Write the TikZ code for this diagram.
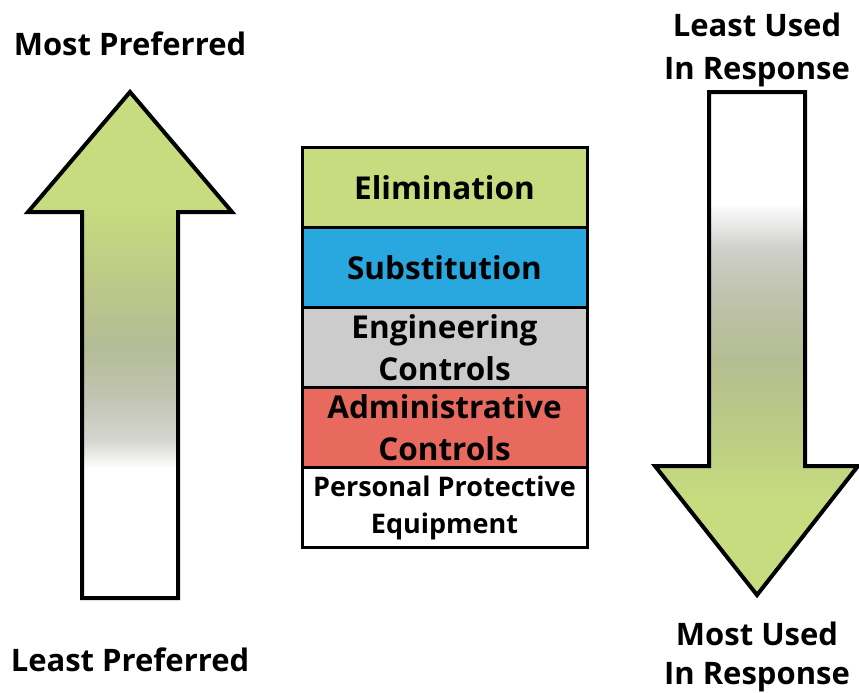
\documentclass[tikz,border=0pt]{standalone}
\usepackage{fontspec}
\setmainfont{Open Sans}
\definecolor{lgreen}{HTML}{C6DC7E}
\definecolor{subblue}{HTML}{29A8E0}
\definecolor{enggray}{HTML}{CCCCCC}
\definecolor{adminred}{HTML}{E8695E}
\definecolor{ga}{HTML}{D6D6D2}
\definecolor{gb}{HTML}{C2C4B2}
\definecolor{gc}{HTML}{B3BC95}
\definecolor{gd}{HTML}{BECB86}
\definecolor{ra}{HTML}{BCCB85}
\definecolor{rb}{HTML}{B4BD92}
\definecolor{rc}{HTML}{BFC3AE}
\definecolor{rd}{HTML}{D0D0CC}
\pgfdeclareverticalshading{upgrad}{100bp}{color(0bp)=(white); color(25bp)=(white); color(37.8bp)=(white); color(40.5bp)=(ga); color(45bp)=(gb); color(50bp)=(gc); color(57bp)=(gd); color(64bp)=(lgreen); color(75bp)=(lgreen); color(100bp)=(lgreen)}
\pgfdeclareverticalshading{downgrad}{100bp}{color(0bp)=(lgreen); color(25bp)=(lgreen); color(34.5bp)=(lgreen); color(41.5bp)=(ra); color(48.5bp)=(rb); color(55bp)=(rc); color(59.5bp)=(rd); color(64bp)=(white); color(75bp)=(white); color(100bp)=(white)}
\begin{document}
\begin{tikzpicture}[x=1pt,y=-1pt,
  box/.style={draw=black, line width=3pt, minimum width=285pt, minimum height=80pt, inner sep=0pt, align=center, font=\bfseries\fontsize{31.5}{42}\selectfont},
  ppebox/.style={box, font=\bfseries\fontsize{27}{37}\selectfont},
  sidelabel/.style={anchor=base, inner sep=0pt, font=\bfseries\fontsize{31}{42}\selectfont},
  arrowshape/.style={draw=black, line width=4pt, line join=miter}]
\useasboundingbox (0,0) rectangle (859,693);
% left arrow
\shadedraw[arrowshape, shading=upgrad] (130,92) -- (232,212) -- (178,212) -- (178,598) -- (82,598) -- (82,212) -- (28,212) -- cycle;
% right arrow
\shadedraw[arrowshape, shading=downgrad] (709,92) -- (805,92) -- (805,466) -- (858,466) -- (757,595) -- (655,466) -- (709,466) -- cycle;
% boxes
\node[box, fill=lgreen] (elim) at (444.5,187.5) {Elimination};
\node[box, fill=subblue] (subs) at (444.5,267.5) {Substitution};
\node[box, fill=enggray] (eng) at (444.5,347.5) {Engineering\\Controls};
\node[box, fill=adminred] (adm) at (444.5,427.5) {Administrative\\Controls};
\node[ppebox, fill=white] (ppe) at (444.5,507.5) {Personal Protective\\Equipment};
% labels
\node[sidelabel] (mostpref) at (130,56) {Most Preferred};
\node[sidelabel] (leastpref) at (130,671) {Least Preferred};
\node[sidelabel] (leastused) at (757,37) {Least Used};
\node[sidelabel] (inresp1) at (757,79) {In Response};
\node[sidelabel] (mostused) at (757,645) {Most Used};
\node[sidelabel] (inresp2) at (757,684) {In Response};
\end{tikzpicture}
\end{document}
